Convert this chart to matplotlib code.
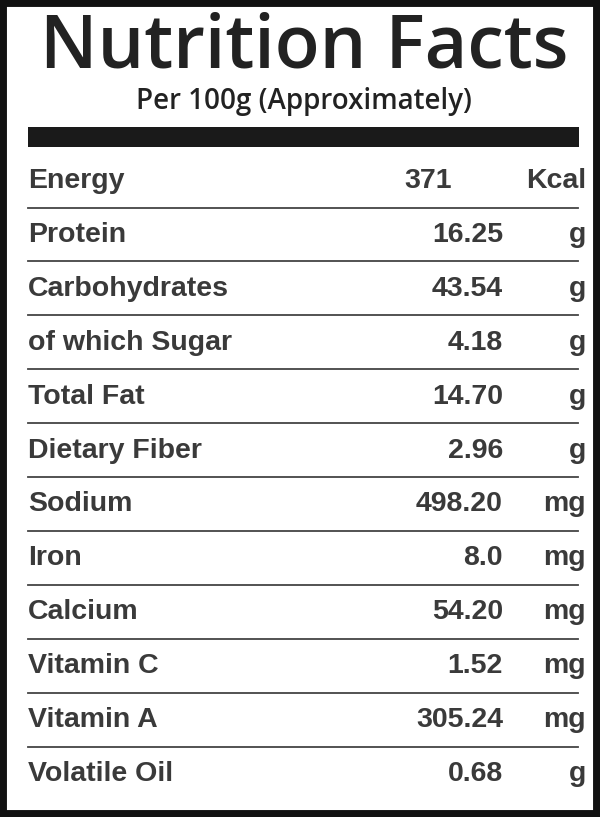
import matplotlib
matplotlib.use("Agg")
import matplotlib.pyplot as plt
from matplotlib.patches import Rectangle

nutrients = ["Energy", "Protein", "Carbohydrates", "of which Sugar", "Total Fat",
             "Dietary Fiber", "Sodium", "Iron", "Calcium", "Vitamin C",
             "Vitamin A", "Volatile Oil"]
values = ["371", "16.25", "43.54", "4.18", "14.70", "2.96", "498.20", "8.0",
          "54.20", "1.52", "305.24", "0.68"]
units = ["Kcal", "g", "g", "g", "g", "g", "mg", "mg", "mg", "mg", "mg", "g"]

fig = plt.figure(figsize=(6, 8.17), dpi=100)
ax = fig.add_axes([0, 0, 1, 1])
ax.set_xlim(0, 600)
ax.set_ylim(817, 0)
ax.axis("off")

ax.add_patch(Rectangle((0, 0), 600, 817, facecolor="none", edgecolor="#111", lw=10))
ax.text(304, 48, "Nutrition Facts", ha="center", va="center", fontsize=53,
        fontweight="semibold", family="Open Sans", color="#222")
ax.text(304, 101, "Per 100g (Approximately)", ha="center", va="center",
        fontsize=20, family="Open Sans", fontweight="semibold", color="#222")
ax.add_patch(Rectangle((28, 127), 551, 20, facecolor="#1a1a1a", edgecolor="none"))

fs = 20.5
y0, dy = 181, 53.9
for i, (n, v, u) in enumerate(zip(nutrients, values, units)):
    y = y0 + i * dy
    kw = dict(va="center", fontsize=fs, fontweight="bold",
              family="Liberation Sans", color="#3a3a3a")
    ax.text(28, y, n, ha="left", **kw)
    if i == 0:
        ax.text(428, y, v, ha="center", **kw)
    else:
        ax.text(503, y, v, ha="right", **kw)
    ax.text(586, y, u, ha="right", **kw)
    if i < len(nutrients) - 1:
        ax.plot([28, 578], [y + 26.5, y + 26.5], color="#444", lw=1.3)

fig.savefig("out.png", dpi=100)
